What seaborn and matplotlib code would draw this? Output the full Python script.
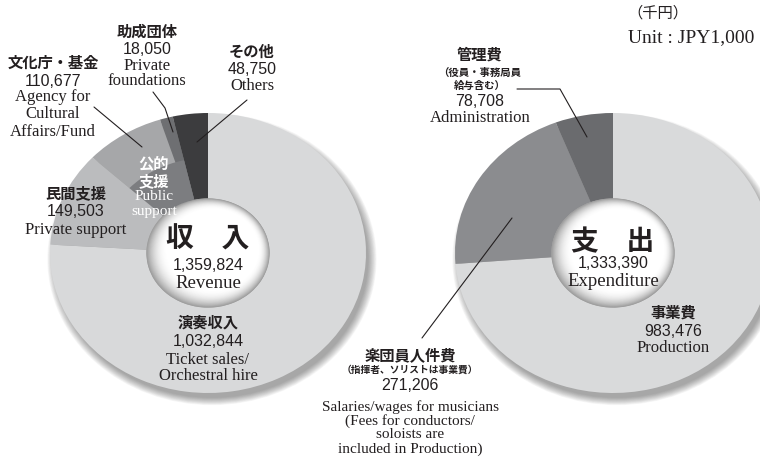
import matplotlib
matplotlib.use('Agg')
import matplotlib.pyplot as plt
from matplotlib.patches import Ellipse
import seaborn as sns

# 収入 (revenue), clockwise from 12 o'clock, unit JPY1,000
rev_ja = ['演奏収入', '民間支援', '文化庁・基金', '助成団体', 'その他']
rev_en = [['Ticket sales/', 'Orchestral hire'], ['Private support'],
          ['Agency for', 'Cultural', 'Affairs/Fund'], ['Private', 'foundations'], ['Others']]
rev_values = [1032844, 149503, 110677, 18050, 48750]
rev_total = 1359824
public_ja = ['公的', '支援']
public_en = ['Public', 'support']

# 支出 (expenditure)
exp_ja = ['事業費', '楽団員人件費', '管理費']
exp_note = [[], ['（指揮者、ソリストは事業費）'], ['（役員・事務局員', '給与含む）']]
exp_en = [['Production'],
          ['Salaries/wages for musicians', '(Fees for conductors/', 'soloists are', 'included in Production)'],
          ['Administration']]
exp_values = [983476, 271206, 78708]
exp_total = 1333390

rev_colors = ['#d8d9da', '#bbbcbe', '#a6a7a9', '#6e6f72', '#3c3c3e']
public_color = '#7c7d80'
exp_colors = ['#d9dadb', '#8b8c8f', '#6a6b6e']

sns.set_theme(style='white')
plt.rcParams['font.family'] = ['Noto Sans CJK JP', 'DejaVu Sans']

W, H = 760, 457
HOLE = 0.39
fig = plt.figure(figsize=(7.6, 4.57), dpi=100)
fig.patch.set_facecolor('white')


def donut(cx, cy, values, colors, rx=158, ry=140):
    ax = fig.add_axes([(cx - rx) / W, 1 - (cy + ry) / H, 2 * rx / W, 2 * ry / H], zorder=1)
    ax.patch.set_alpha(0)
    # soft drop shadow
    for i in range(14):
        ax.add_patch(Ellipse((0.025, -0.045), 2 * (0.99 + 0.004 * i), 2 * (0.99 + 0.004 * i),
                             facecolor='k', alpha=0.03, lw=0, zorder=0, clip_on=False))
    ax.pie(values, colors=colors, startangle=90, counterclock=False, radius=1,
           wedgeprops=dict(width=1 - HOLE, linewidth=0))
    # shaded hole
    n = 24
    for i in range(n):
        t = i / (n - 1)
        r = HOLE * (1 - 0.25 * t)
        g = 1 - 0.38 * (1 - t) ** 2
        ax.add_patch(Ellipse((0.03 * t, 0.025 * t), 2 * r, 2 * r,
                             facecolor=(g, g, g), lw=0, zorder=1))
    ax.set_xlim(-1, 1)
    ax.set_ylim(-1, 1)
    ax.set_aspect('auto')
    ax.axis('off')
    return ax


axl = donut(208, 253, rev_values, rev_colors)
# inner band for 公的支援 (agency + foundations)
axl.pie([rev_values[0] + rev_values[1], rev_values[2] + rev_values[3], rev_values[4]],
        colors=['none', public_color, 'none'], startangle=90, counterclock=False,
        radius=0.68, wedgeprops=dict(width=0.68 - HOLE, linewidth=0))
axl.set_xlim(-1, 1)
axl.set_ylim(-1, 1)
axl.set_aspect('auto')

axr = donut(613, 253, exp_values, exp_colors)

tax = fig.add_axes([0, 0, 1, 1], zorder=3)
tax.set_xlim(0, W)
tax.set_ylim(H, 0)
tax.axis('off')
tax.patch.set_alpha(0)

INK = '#231f20'
CJK = ['Noto Sans CJK JP', 'DejaVu Sans']
JA = dict(family=CJK, fontweight='bold', fontsize=11)
NUM = dict(family='Liberation Sans', fontsize=11.5)
EN = dict(family='Liberation Serif', fontsize=12)
EN_TIGHT = dict(family='Liberation Serif', fontsize=11)


def put(x, y, s, style, color=INK, ha='center'):
    tax.text(x, y, s, ha=ha, va='center', color=color, **style)


def block(x, ys, ja, note, value, en, note_size=7.5, en_style=EN):
    small = dict(family=CJK, fontweight='bold', fontsize=note_size)
    lines = [(ja, JA)] + [(s, small) for s in note] + [(f'{value:,}', NUM)] + [(s, en_style) for s in en]
    for (s, st), y in zip(lines, ys):
        put(x, y, s, st)


# revenue labels
block(208, [323, 341, 360, 376], rev_ja[0], [], rev_values[0], rev_en[0])
block(76, [193, 211, 230], rev_ja[1], [], rev_values[1], rev_en[1])
block(53, [63, 81, 97, 114, 132], rev_ja[2], [], rev_values[2], rev_en[2])
block(147, [32, 50, 66, 81], rev_ja[3], [], rev_values[3], rev_en[3])
block(252, [52, 69, 86], rev_ja[4], [], rev_values[4], rev_en[4])
for s, y in zip(public_ja, [163, 181]):
    put(154, y, s, JA, 'white')
for s, y in zip(public_en, [197, 211]):
    put(154, y, s, EN_TIGHT, 'white')

# expenditure labels
block(673, [313, 332, 348], exp_ja[0], exp_note[0], exp_values[0], exp_en[0])
block(410, [355, 370, 385, 407, 421, 435, 449], exp_ja[1], exp_note[1], exp_values[1], exp_en[1],
      note_size=7, en_style=EN_TIGHT)
block(480, [55, 73, 86, 101, 118], exp_ja[2], exp_note[2], exp_values[2], exp_en[2])

# centres
BIG = dict(family=CJK, fontweight='bold', fontsize=20)
CEN = dict(family='Liberation Serif', fontsize=13.5)
put(208, 240, '収\u3000入', BIG)
put(208, 266, f'{rev_total:,}', NUM)
put(208, 284, 'Revenue', CEN)
put(613, 242, '支\u3000出', BIG)
put(613, 263, f'{exp_total:,}', NUM)
put(613, 282, 'Expenditure', CEN)

# unit
put(627, 13, '（千円）', dict(family=CJK, fontsize=11), ha='left')
put(628, 38, 'Unit : JPY1,000', dict(family='Liberation Serif', fontsize=14), ha='left')

# leader lines
lk = dict(color=INK, lw=0.8)
tax.plot([94, 142], [107, 147], **lk)
tax.plot([153, 165, 173], [92, 108, 132], **lk)
tax.plot([247, 197], [100, 142], **lk)
tax.plot([517, 560, 587], [89, 89, 137], **lk)
tax.plot([512, 422], [218, 338], **lk)

fig.savefig('out.png', dpi=100, facecolor='white')
